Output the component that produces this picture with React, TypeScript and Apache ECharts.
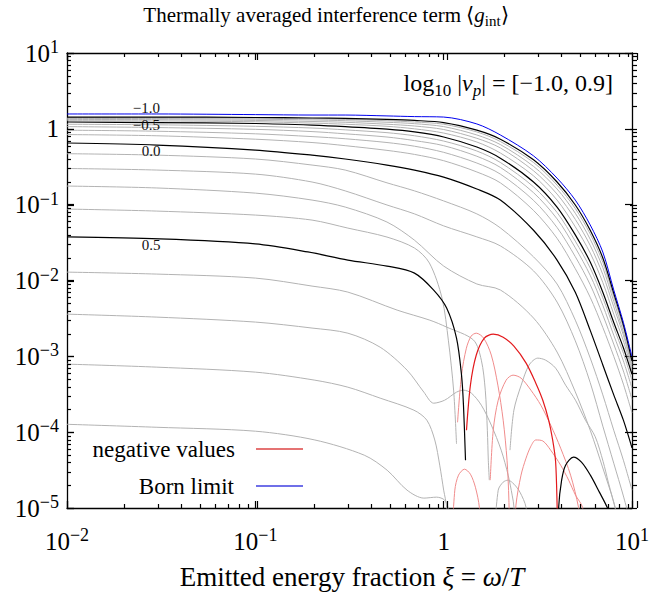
import React, { useEffect, useRef } from "react";
import * as echarts from "echarts";

const FONT = '"Liberation Serif", "Times New Roman", serif';

// shared x positions (xi = omega/T) for the smooth curves
const xGrid = [0.01, 0.03, 0.1, 0.2, 0.3, 0.5, 0.7, 1, 1.5, 2, 3, 4, 5, 6, 7, 8, 9, 10];

const bornLimit = [1.57, 1.57, 1.54, 1.52, 1.52, 1.48, 1.45, 1.43, 1.16, 0.83, 0.44, 0.224, 0.115, 0.054, 0.0237, 0.0075, 0.0028, 0.00098];
const nuM10 = [1.43, 1.43, 1.41, 1.39, 1.37, 1.33, 1.29, 1.21, 0.96, 0.73, 0.39, 0.199, 0.099, 0.046, 0.0198, 0.0068, 0.0026, 0.00087];
const nuM09 = [1.405, 1.4, 1.38, 1.355, 1.33, 1.28, 1.23, 1.15, 0.91, 0.68, 0.36, 0.181, 0.089, 0.041, 0.0174, 0.0061, 0.0024, 0.00082];
const nuM08 = [1.37, 1.365, 1.34, 1.31, 1.28, 1.22, 1.17, 1.07, 0.83, 0.62, 0.32, 0.161, 0.077, 0.035, 0.0148, 0.0053, 0.0021, 0.00078];
const nuM07 = [1.33, 1.32, 1.29, 1.25, 1.22, 1.15, 1.09, 0.98, 0.75, 0.56, 0.28, 0.138, 0.064, 0.029, 0.012, 0.0045, 0.0019, 0.00072];
const nuM06 = [1.28, 1.27, 1.24, 1.19, 1.15, 1.08, 1.0, 0.88, 0.67, 0.48, 0.24, 0.115, 0.051, 0.023, 0.0094, 0.0036, 0.0016, 0.00065];
const nuM05 = [1.23, 1.21, 1.175, 1.12, 1.07, 0.99, 0.91, 0.78, 0.575, 0.41, 0.199, 0.093, 0.04, 0.0175, 0.007, 0.0028, 0.0013, 0.00058];
const nuM04 = [1.15, 1.13, 1.08, 1.025, 0.97, 0.89, 0.81, 0.69, 0.51, 0.36, 0.172, 0.079, 0.033, 0.0146, 0.0059, 0.0024, 0.0011, 0.00048];
const nuM03 = [1.07, 1.04, 0.985, 0.92, 0.86, 0.78, 0.7, 0.6, 0.435, 0.31, 0.144, 0.065, 0.027, 0.0117, 0.0047, 0.0019, 0.00087, 0.00038];
const nuM02 = [0.96, 0.93, 0.86, 0.79, 0.74, 0.66, 0.59, 0.49, 0.354, 0.253, 0.114, 0.05, 0.0206, 0.0088, 0.0035, 0.00145, 0.00064, 0.00027];
const nuM01 = [0.84, 0.81, 0.73, 0.66, 0.6, 0.52, 0.46, 0.38, 0.27, 0.194, 0.084, 0.036, 0.0143, 0.006, 0.0024, 0.001, 0.00043, 0.00018];
const nu00 = [0.65, 0.61, 0.525, 0.45, 0.4, 0.333, 0.286, 0.231, 0.161, 0.115, 0.046, 0.0186, 0.007, 0.0022, 0.00077, 0.00031, 0.000144, 0.000062];
const nu01 = [0.47, 0.45, 0.4, 0.333, 0.286, 0.194, 0.152, 0.112, 0.0756, 0.0494, 0.0205, 0.009, 0.003, 0.00095, 0.00031, 0.000106, 0.0000427, 0.0000172];
const nu02 = [0.3, 0.286, 0.253, 0.199, 0.152, 0.099, 0.0756, 0.0525, 0.0376, 0.0286, 0.0134, 0.0052, 0.0016, 0.00045, 0.00012, 0.000039, 0.0000144, 0.0000054];
const nu03 = [0.176, 0.166, 0.142, 0.115, 0.093, 0.059, 0.034, 0.0155, 0.009, 0.0075, 0.0032, 0.00114, 0.00034, 0.000106, 0.0000337, 0.000012, 0.000004, 0.000002];

// curves with sign changes: [xi, |g|] pairs, split where g changes sign
const nu04Pos1 = [[0.01, 0.0875], [0.03, 0.0823], [0.1, 0.0729], [0.2, 0.0626], [0.31, 0.0491], [0.5, 0.0374], [0.7, 0.0268], [0.84, 0.017], [0.98, 0.00586], [1.06, 0.0016], [1.13, 0.00035], [1.17, 0.00007]];
const nu04Neg1 = [[1.185, 0.000135], [1.244, 0.000567], [1.32, 0.00128], [1.4, 0.00185], [1.49, 0.00202], [1.63, 0.00174], [1.79, 0.00104], [1.94, 0.000417], [2.07, 0.000144], [2.17, 0.0000427], [2.22, 0.0000127], [2.235, 0.000004]];
const nu04Pos2 = [[2.25, 0.0000579], [2.36, 0.000195], [2.58, 0.000417], [2.84, 0.000766], [3.16, 0.000947], [3.48, 0.00089], [3.93, 0.000699], [4.44, 0.000417], [5.01, 0.000264], [5.66, 0.000144], [6.38, 0.000087], [7.03, 0.0000407], [7.48, 0.000022], [8.2, 0.0000089], [8.6, 0.000003]];

const nu05Pos1 = [[0.01, 0.0376], [0.031, 0.0354], [0.1, 0.0304], [0.19, 0.0238], [0.31, 0.0186], [0.5, 0.0155], [0.7, 0.0125], [0.885, 0.00747], [1.037, 0.00433], [1.17, 0.00174], [1.244, 0.000565], [1.274, 0.000227], [1.306, 0.0000427]];
const nu05Neg1 = [[1.322, 0.000106], [1.387, 0.000417], [1.49, 0.00104], [1.644, 0.00174], [1.833, 0.00196], [2.07, 0.00179], [2.36, 0.00136], [2.74, 0.000813], [3.085, 0.000443], [3.36, 0.000264], [3.61, 0.000144], [3.79, 0.0000789], [3.93, 0.0000407], [4.005, 0.0000102], [4.03, 0.000004]];
const nu05Pos2 = [[4.06, 0.000004], [4.08, 0.0000102], [4.23, 0.0000233], [4.44, 0.0000367], [4.89, 0.0000468], [5.39, 0.0000402], [6.01, 0.0000271], [6.71, 0.0000162], [7.38, 0.0000102], [7.75, 0.0000069]];

const nu06Pos1 = [[0.01, 0.0129], [0.03, 0.01215], [0.1, 0.01076], [0.2, 0.00844], [0.31, 0.00703], [0.566, 0.00407], [0.844, 0.003], [1.037, 0.00243], [1.44, 0.00164], [1.585, 0.00089], [1.663, 0.000358], [1.706, 0.000106], [1.726, 0.0000427], [1.747, 0.0000233]];
const nu06Neg1 = [[1.767, 0.0000233], [1.833, 0.000106], [1.948, 0.000264], [2.146, 0.000485], [2.335, 0.000565], [2.575, 0.000516], [2.905, 0.000358], [3.28, 0.000227], [3.7, 0.000124], [4.18, 0.0000615], [4.72, 0.0000271], [5.2, 0.0000102], [5.39, 0.0000051]];

const nu07Pos1 = [[0.01, 0.0036], [0.03, 0.00329], [0.1, 0.00283], [0.2, 0.00236], [0.31, 0.00202], [0.46, 0.00132], [0.639, 0.000658], [0.785, 0.000337], [0.885, 0.000241], [1.012, 0.000264], [1.17, 0.000337], [1.274, 0.000358], [1.403, 0.000327], [1.585, 0.000227], [1.79, 0.000124], [2.02, 0.0000579], [2.2, 0.0000271], [2.31, 0.0000148], [2.363, 0.0000102], [2.393, 0.000002]];
const nu07Neg1 = [[2.39, 0.000004], [2.42, 0.0000109], [2.575, 0.0000271], [2.737, 0.0000454], [2.905, 0.0000653], [3.085, 0.0000789], [3.36, 0.0000766], [3.7, 0.0000579], [4.18, 0.0000367], [4.61, 0.0000233], [5.01, 0.0000148], [5.46, 0.0000102], [5.66, 0.000004]];

const nu08Pos1 = [[0.01, 0.000789], [0.03, 0.00072], [0.1, 0.000619], [0.207, 0.000485], [0.31, 0.000392], [0.46, 0.000281], [0.695, 0.000195], [0.814, 0.000144], [0.897, 0.0000789], [0.953, 0.0000367], [1.0, 0.0000172], [1.037, 0.0000102], [1.05, 0.000002]];
const nu08Neg1 = [[1.1, 0.000003], [1.146, 0.0000172], [1.199, 0.0000271], [1.29, 0.0000325], [1.387, 0.0000279], [1.474, 0.0000188], [1.547, 0.0000102], [1.585, 0.000003]];
const nu08Pos2 = [[1.833, 0.000003], [1.948, 0.0000172], [2.069, 0.0000219], [2.198, 0.0000233], [2.363, 0.0000206], [2.54, 0.0000162], [2.737, 0.0000102], [2.84, 0.000003]];

const nu09Pos1 = [[0.01, 0.000127], [0.03, 0.000116], [0.1, 0.000103], [0.207, 0.0000789], [0.379, 0.0000497], [0.501, 0.0000315], [0.639, 0.0000172], [0.785, 0.0000135], [0.918, 0.0000139], [1.012, 0.0000127], [1.062, 0.0000094], [1.09, 0.000003]];

// axis ranges, decades (major ticks) and minor-tick multipliers
const X_MIN = 0.01;
const X_MAX = 10;
const Y_MIN = 1e-5;
const Y_MAX = 10;
const xDecades = [-2, -1, 0, 1];
const yDecades = [-5, -4, -3, -2, -1, 0, 1];
const minorSteps = [2, 3, 4, 5, 6, 7, 8, 9];

// plot frame (pixels)
const GRID = { left: 67, top: 53, width: 570, height: 455 };

const GRAY = "#b3b3b3";
const BLACK = "#000000";
const PALE_RED = "#f08c8c";
const RED = "#e3191c";
const BLUE = "#0000ee";

function tickLabel(v: number): string {
  const e = Math.round(Math.log10(v));
  if (e === 0) return "{b|1}";
  return "{b|10}{s|" + (e < 0 ? "\u2212" + -e : String(e)) + "}";
}

const tickRich = {
  b: { fontSize: 25, fontFamily: FONT, color: "#000", lineHeight: 30 },
  s: { fontSize: 18, fontFamily: FONT, color: "#000", lineHeight: 16, verticalAlign: "top" },
};

function gridLine(values: number[], color: string, width: number, extra: any = {}) {
  return {
    type: "line",
    data: xGrid.map((x, i) => [x, values[i]]),
    symbol: "none",
    showSymbol: false,
    smooth: 0.3,
    clip: true,
    silent: true,
    lineStyle: { color, width },
    ...extra,
  };
}

function pairLine(pairs: number[][], color: string, width: number, extra: any = {}) {
  return {
    type: "line",
    data: pairs,
    symbol: "none",
    showSymbol: false,
    smooth: 0.3,
    clip: true,
    silent: true,
    lineStyle: { color, width },
    ...extra,
  };
}

function curveLabel(text: string, coord: number[], dy: number) {
  return {
    markPoint: {
      symbol: "circle",
      symbolSize: 1,
      silent: true,
      itemStyle: { color: "rgba(0,0,0,0)" },
      label: {
        show: true,
        position: "inside",
        formatter: text,
        offset: [0, dy],
        color: "#111",
        fontSize: 15,
        fontFamily: FONT,
      },
      data: [{ coord }],
    },
  };
}

function tickRows(decades: number[]) {
  const rows: number[][] = [];
  const top = decades[decades.length - 1];
  decades.forEach((d) => {
    const base = Math.pow(10, d);
    rows.push([base, 1]);
    if (d < top) minorSteps.forEach((m) => rows.push([m * base, 0]));
  });
  return rows;
}

// log-scale position of a tick inside the frame
function logPos(v: number, lo: number, hi: number, size: number) {
  return ((Math.log10(v) - Math.log10(lo)) / (Math.log10(hi) - Math.log10(lo))) * size;
}

function buildTicks() {
  const tickStyle = { stroke: "#000", lineWidth: 1.2 };
  const els: any[] = [];
  const bottom = GRID.top + GRID.height;
  const right = GRID.left + GRID.width;
  tickRows(xDecades).forEach(([v, major]) => {
    const x = Math.round(GRID.left + logPos(v, X_MIN, X_MAX, GRID.width)) + 0.5;
    const len = major ? 7 : 4;
    els.push({ type: "line", silent: true, z: 100, shape: { x1: x, y1: bottom, x2: x, y2: bottom - len }, style: tickStyle });
    els.push({ type: "line", silent: true, z: 100, shape: { x1: x, y1: GRID.top, x2: x, y2: GRID.top + len }, style: tickStyle });
  });
  tickRows(yDecades).forEach(([v, major]) => {
    const y = Math.round(bottom - logPos(v, Y_MIN, Y_MAX, GRID.height)) + 0.5;
    const len = major ? 7 : 4;
    els.push({ type: "line", silent: true, z: 100, shape: { x1: GRID.left, y1: y, x2: GRID.left + len, y2: y }, style: tickStyle });
    els.push({ type: "line", silent: true, z: 100, shape: { x1: right, y1: y, x2: right - len, y2: y }, style: tickStyle });
  });
  return els;
}

function baseAxis(extra: any) {
  return {
    type: "log",
    logBase: 10,
    axisLine: { show: true, onZero: false, lineStyle: { color: "#000", width: 1.3 } },
    axisTick: { show: true, inside: true, length: 7, lineStyle: { color: "#000", width: 1.2 } },
    minorTick: { show: false },
    splitLine: { show: false },
    minorSplitLine: { show: false },
    ...extra,
  };
}

const plainRich = (size: number) => ({
  r: { fontSize: size, fontFamily: FONT, fill: "#000", lineHeight: Math.round(size * 1.3) },
  i: { fontSize: size, fontFamily: FONT, fontStyle: "italic", fill: "#000", lineHeight: Math.round(size * 1.3) },
  sub: { fontSize: Math.round(size * 0.7), fontFamily: FONT, fill: "#000", lineHeight: 14, verticalAlign: "bottom" },
  isub: { fontSize: Math.round(size * 0.7), fontFamily: FONT, fontStyle: "italic", fill: "#000", lineHeight: 14, verticalAlign: "bottom" },
});

export default function App() {
  const ref = useRef<HTMLDivElement>(null);

  useEffect(() => {
    const chart = echarts.init(ref.current!, null, { renderer: "svg" });

    const series: any[] = [
      // gray curves
      gridLine(nuM09, GRAY, 1),
      gridLine(nuM08, GRAY, 1),
      gridLine(nuM07, GRAY, 1),
      gridLine(nuM06, GRAY, 1),
      gridLine(nuM04, GRAY, 1),
      gridLine(nuM03, GRAY, 1),
      gridLine(nuM02, GRAY, 1),
      gridLine(nuM01, GRAY, 1),
      gridLine(nu01, GRAY, 1),
      gridLine(nu02, GRAY, 1),
      gridLine(nu03, GRAY, 1),
      pairLine(nu04Pos1, GRAY, 1),
      pairLine(nu04Pos2, GRAY, 1),
      pairLine(nu06Pos1, GRAY, 1),
      pairLine(nu07Pos1, GRAY, 1),
      pairLine(nu08Pos1, GRAY, 1),
      pairLine(nu08Pos2, GRAY, 1),
      pairLine(nu09Pos1, GRAY, 1),
      // negative values of gray curves
      pairLine(nu04Neg1, PALE_RED, 1),
      pairLine(nu06Neg1, PALE_RED, 1),
      pairLine(nu07Neg1, PALE_RED, 1),
      pairLine(nu08Neg1, PALE_RED, 1),
      // black labelled curves
      gridLine(nuM10, BLACK, 1.2, curveLabel("\u22121.0", [0.0264, 1.43], -9)),
      gridLine(nuM05, BLACK, 1.2, curveLabel("\u22120.5", [0.0264, 1.21], 2)),
      gridLine(nu00, BLACK, 1.2, curveLabel("0.0", [0.028, 0.61], 6)),
      pairLine(nu05Pos1, BLACK, 1.2, curveLabel("0.5", [0.028, 0.0354], 6)),
      pairLine(nu05Pos2, BLACK, 1.2),
      pairLine(nu05Neg1, RED, 1.2),
      // Born limit
      gridLine(bornLimit, BLUE, 1),
    ];

    const graphic: any[] = [
      {
        type: "text",
        x: 326,
        y: 15,
        style: {
          text: "{r|Thermally averaged interference term \u27E8}{i|g}{sub|int}{r|\u27E9}",
          rich: plainRich(21),
          align: "center",
          verticalAlign: "middle",
        },
      },
      {
        type: "text",
        x: 352,
        y: 577,
        style: {
          text: "{r|Emitted energy fraction }{i|\u03BE}{r| = }{i|\u03C9}{r|/}{i|T}",
          rich: plainRich(27),
          align: "center",
          verticalAlign: "middle",
        },
      },
      {
        type: "text",
        x: 613,
        y: 83,
        style: {
          text: "{r|log}{sub|10}{r| |}{i|\u03BD}{isub|p}{r|| = [\u22121.0, 0.9]}",
          rich: plainRich(24),
          align: "right",
          verticalAlign: "middle",
        },
      },
      {
        type: "text",
        x: 235,
        y: 449,
        style: { text: "negative values", fontSize: 23, fontFamily: FONT, fill: "#000", align: "right", verticalAlign: "middle" },
      },
      {
        type: "line",
        shape: { x1: 256, y1: 449, x2: 303, y2: 449 },
        style: { stroke: "#e57373", lineWidth: 2 },
      },
      {
        type: "text",
        x: 234,
        y: 486,
        style: { text: "Born limit", fontSize: 23, fontFamily: FONT, fill: "#000", align: "right", verticalAlign: "middle" },
      },
      {
        type: "line",
        shape: { x1: 256, y1: 486, x2: 303, y2: 486 },
        style: { stroke: "#6f6fe8", lineWidth: 2 },
      },
      ...buildTicks(),
    ];

    const option: any = {
      animation: false,
      backgroundColor: "#ffffff",
      grid: { left: GRID.left, top: GRID.top, width: GRID.width, height: GRID.height, containLabel: false },
      xAxis: [
        baseAxis({ min: X_MIN, max: X_MAX, position: "bottom", axisLabel: { margin: 18, formatter: tickLabel, rich: tickRich } }),
        baseAxis({ min: X_MIN, max: X_MAX, position: "top", axisLabel: { show: false } }),
      ],
      yAxis: [
        baseAxis({ min: Y_MIN, max: Y_MAX, position: "left", axisLabel: { margin: 8, formatter: tickLabel, rich: tickRich } }),
        baseAxis({ min: Y_MIN, max: Y_MAX, position: "right", axisLabel: { show: false } }),
      ],
      series,
      graphic,
    };

    chart.setOption(option);
    return () => chart.dispose();
  }, []);

  return (
    <div
      ref={ref}
      style={{ position: "fixed", left: 0, top: 0, width: 652, height: 593, background: "#fff" }}
    />
  );
}
